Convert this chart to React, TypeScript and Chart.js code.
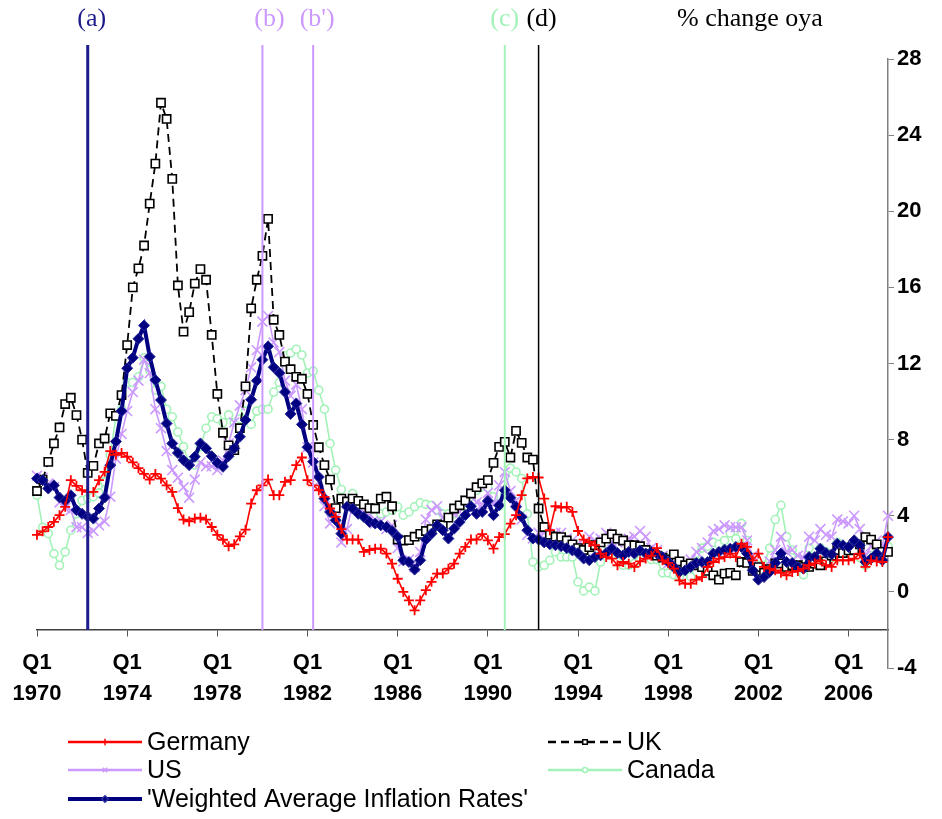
import React, { useEffect, useRef } from 'react';
import { Chart, registerables } from 'chart.js';

Chart.register(...registerables);

const FONT = '"Liberation Sans", Arial, Helvetica, sans-serif';
const SERIF = '"Liberation Serif", "Times New Roman", serif';

// ---- categories (quarters 1970 Q1 .. 2007 Q4) ----
const START_YEAR = 1970;
const N_QUARTERS = 152;
const quarterLabels: string[] = Array.from({ length: N_QUARTERS }, (_, i) => `Q${(i % 4) + 1} ${START_YEAR + Math.floor(i / 4)}`);
const TICK_EVERY = 16;

// ---- series values (% change over year ago) ----
const germany = [
  3.0, 3.18, 3.41, 3.68, 4.03, 4.47, 5.87, 5.57, 5.34, 5.25,
  5.25, 5.87, 6.31, 7.4, 7.2, 7.3, 7.1, 6.8, 6.5, 6.2,
  5.9, 6.2, 5.95, 5.6, 5.25, 4.4, 3.8, 3.7, 3.85, 3.9,
  3.8, 3.41, 3.0, 2.74, 2.4, 2.5, 2.92, 3.27, 4.64, 5.34,
  5.6, 5.9, 5.08, 5.08, 5.78, 5.87, 6.66, 7.06, 5.87, 5.6,
  5.34, 4.99, 4.38, 3.94, 3.3, 2.75, 2.75, 2.75, 2.1, 2.2,
  2.27, 2.27, 2.01, 1.48, 0.69, 0.0, -0.45, -0.97, -0.45, 0.09,
  0.53, 0.96, 0.96, 1.22, 1.48, 2.01, 2.36, 2.75, 2.75, 3.03,
  2.71, 2.27, 2.88, 3.03, 3.59, 4.03, 5.08, 5.96, 6.04, 6.01,
  4.9, 3.24, 4.5, 4.43, 4.47, 4.2, 3.2, 2.75, 2.62, 2.45,
  2.01, 1.83, 1.75, 1.4, 1.57, 1.48, 1.31, 1.6, 1.75, 1.9,
  2.3, 1.66, 1.52, 1.22, 0.6, 0.43, 0.43, 0.64, 0.78, 1.31,
  1.57, 1.75, 1.83, 2.01, 1.83, 2.53, 2.36, 1.66, 2.01, 1.31,
  1.22, 1.13, 1.0, 0.87, 1.05, 1.1, 1.22, 1.4, 1.5, 1.66,
  1.4, 1.31, 1.66, 1.66, 1.66, 1.75, 2.01, 1.31, 1.66, 1.6,
  1.57, 2.88,
];

const uk = [
  5.3, 5.9, 6.83, 7.8, 8.64, 9.87, 10.2, 9.29, 8.0, 6.25,
  6.62, 7.8, 8.06, 9.38, 9.25, 10.34, 12.97, 16.0, 17.0, 18.2,
  20.4, 22.5, 25.7, 24.85, 21.7, 16.1, 13.67, 14.7, 16.2, 16.96,
  16.4, 13.5, 10.4, 8.36, 7.7, 7.45, 8.6, 10.8, 14.9, 16.4,
  17.66, 19.6, 14.3, 13.5, 12.1, 11.7, 11.3, 11.2, 10.4, 8.77,
  7.6, 6.66, 5.9, 4.4, 4.9, 4.75, 4.9, 4.78, 4.6, 4.4,
  4.38, 4.9, 5.0, 4.5, 2.75, 2.7, 2.72, 2.9, 3.05, 3.2,
  3.3, 3.55, 3.5, 3.9, 4.38, 4.55, 4.8, 5.17, 5.5, 5.7,
  5.87, 6.78, 7.62, 7.88, 7.06, 8.46, 7.83, 7.06, 6.95, 4.38,
  3.41, 3.0, 2.9, 2.88, 2.7, 2.5, 2.3, 2.2, 2.35, 2.45,
  2.6, 2.8, 3.03, 2.8, 2.7, 2.45, 2.45, 2.4, 2.2, 2.0,
  1.9, 1.8, 1.7, 1.97, 1.6, 1.4, 1.5, 1.4, 1.3, 1.1,
  0.87, 0.64, 0.96, 1.0, 0.87, 1.57, 1.52, 1.1, 1.3, 1.0,
  1.2, 1.5, 1.5, 1.31, 1.4, 1.4, 1.3, 1.31, 1.48, 1.4,
  1.6, 1.9, 2.2, 2.04, 2.18, 2.2, 2.5, 2.88, 2.75, 2.5,
  2.1, 2.1,
];

const us = [
  6.1, 6.0, 5.7, 5.5, 4.7, 4.4, 4.3, 3.4, 3.4, 3.1,
  3.2, 3.5, 3.7, 5.0, 7.0, 8.3, 9.5, 10.5, 11.1, 12.2,
  11.5, 9.6, 8.6, 7.4, 6.4, 6.0, 5.5, 4.95, 5.9, 6.8,
  6.6, 6.6, 6.4, 6.9, 7.8, 8.9, 9.8, 10.6, 11.8, 12.7,
  14.2, 14.5, 13.1, 12.6, 11.1, 10.3, 10.9, 9.6, 7.6, 6.8,
  5.8, 4.5, 3.6, 3.9, 2.6, 3.3, 4.6, 4.3, 4.2, 4.1,
  3.6, 3.7, 3.3, 3.5, 2.3, 1.6, 1.7, 1.3, 2.1, 3.8,
  4.3, 4.5, 3.9, 3.9, 4.1, 4.2, 4.8, 5.2, 4.7, 4.6,
  5.2, 4.6, 5.6, 6.3, 5.3, 4.8, 3.8, 3.0, 2.8, 3.1,
  3.1, 3.0, 3.1, 3.1, 2.8, 2.7, 2.5, 2.4, 2.9, 2.7,
  2.8, 3.1, 2.6, 2.6, 2.7, 2.8, 2.9, 3.2, 2.9, 2.3,
  2.2, 1.9, 1.5, 1.6, 1.6, 1.5, 1.7, 2.1, 2.3, 2.6,
  3.2, 3.3, 3.5, 3.4, 3.4, 3.4, 2.7, 1.9, 1.2, 1.3,
  1.6, 2.2, 2.9, 2.1, 2.2, 1.9, 1.8, 2.9, 2.7, 3.3,
  3.0, 2.9, 3.8, 3.7, 3.6, 4.0, 3.3, 1.9, 2.4, 2.7,
  2.4, 4.0,
];

const canada = [
  5.08, 3.39, 3.06, 2.01, 1.4, 2.1, 3.24, 4.1, 4.8, 4.9,
  5.0, 5.2, 5.78, 7.19, 9.2, 9.6, 11.0, 11.0, 11.3, 12.3,
  11.65, 10.6, 10.8, 9.6, 9.2, 8.4, 7.63, 6.76, 6.67, 7.63,
  8.6, 9.2, 9.1, 8.9, 9.3, 8.9, 9.1, 9.5, 8.8, 9.5,
  9.6, 9.6, 10.5, 11.0, 12.4, 12.55, 12.75, 12.45, 11.5, 11.6,
  10.6, 9.6, 7.8, 6.4, 5.38, 4.67, 5.17, 4.6, 3.94, 3.76,
  3.97, 4.1, 4.2, 4.29, 4.47, 4.03, 4.2, 4.47, 4.68, 4.6,
  4.55, 4.3, 4.1, 4.1, 4.1, 4.2, 4.55, 5.0, 5.34, 5.55,
  5.48, 5.0, 4.5, 5.2, 6.5, 6.3, 5.96, 4.1, 1.57, 1.31,
  1.4, 1.66, 2.1, 1.83, 1.83, 1.83, 0.52, 0.05, 0.25, 0.05,
  1.57, 2.5, 2.4, 2.0, 1.4, 1.4, 1.5, 2.1, 2.1, 1.7,
  1.7, 1.0, 1.0, 0.9, 0.8, 1.1, 0.8, 1.6, 2.3, 2.4,
  2.6, 2.5, 2.7, 3.1, 2.8, 3.6, 2.7, 1.1, 1.4, 1.4,
  2.3, 3.8, 4.55, 2.9, 2.2, 1.7, 0.9, 2.3, 1.8, 2.3,
  2.1, 1.8, 2.6, 2.3, 2.4, 2.6, 1.8, 1.4, 1.9, 2.3,
  2.2, 2.4,
];

const weighted = [
  5.96, 5.87, 5.43, 5.6, 4.96, 4.78, 5.08, 4.3, 4.1, 3.95,
  3.85, 4.38, 4.96, 6.66, 7.9, 9.5, 11.75, 12.3, 13.3, 14.0,
  12.36, 11.13, 10.08, 8.85, 7.8, 7.3, 6.92, 6.66, 7.1, 7.8,
  7.54, 7.13, 6.78, 6.57, 7.13, 7.54, 8.15, 9.03, 10.1, 11.1,
  12.2, 12.9, 11.8, 11.5, 10.5, 9.35, 9.9, 8.8, 7.6, 6.84,
  6.04, 4.9, 4.2, 3.77, 3.06, 4.47, 4.38, 4.1, 3.94, 3.67,
  3.59, 3.5, 3.41, 3.2, 2.9, 1.66, 1.57, 1.17, 1.66, 2.75,
  3.06, 3.5, 3.24, 2.8, 3.32, 3.67, 4.03, 4.5, 4.1, 4.2,
  4.78, 4.03, 4.55, 5.34, 4.95, 4.47, 3.94, 3.24, 2.8, 2.75,
  2.6, 2.5, 2.45, 2.4, 2.3, 2.18, 2.04, 1.75, 1.66, 1.83,
  1.92, 2.04, 2.27, 2.04, 1.92, 2.1, 2.01, 2.18, 2.01, 2.1,
  2.01, 1.83, 1.57, 1.31, 1.05, 1.13, 1.31, 1.52, 1.57, 1.57,
  2.01, 2.1, 2.22, 2.27, 2.36, 2.36, 2.01, 1.13, 0.64, 0.78,
  1.05, 1.52, 2.01, 1.57, 1.52, 1.31, 1.22, 1.83, 1.83, 2.27,
  2.04, 1.97, 2.53, 2.45, 2.36, 2.71, 2.45, 1.57, 1.75, 2.01,
  1.66, 2.88,
];

const seriesNames = ['Germany', 'UK', 'US', 'Canada', "'Weighted Average Inflation Rates'"];

// ---- event markers ----
const eventLabels = ['(a)', '(b)', "(b')", '(c)', '(d)'];
const eventQuarters = ['Q2 1972', 'Q1 1980', 'Q2 1982', 'Q4 1990', 'Q2 1992'];
const unitLabel = '% change oya';

// ---- axis ----
const Y_MIN = -4;
const Y_MAX = 28;
const Y_STEP = 4;
const X_AXIS_AT = -2;

// ---- styles ----
type Style = {
  color: string; width: number; dash: number[]; marker: string; radius: number;
  fill: string; markerStroke: string; markerWidth: number; order: number;
};
const styles: Style[] = [
  { color: '#FF0000', width: 1.6, dash: [], marker: 'cross', radius: 5, fill: '#FF0000', markerStroke: '#FF0000', markerWidth: 1.8, order: 0 },
  { color: '#000000', width: 1.8, dash: [8, 5], marker: 'rect', radius: 5.8, fill: '#FFFFFF', markerStroke: '#000000', markerWidth: 1.6, order: 2 },
  { color: '#CC99FF', width: 1.6, dash: [], marker: 'crossRot', radius: 7, fill: '#CC99FF', markerStroke: '#CC99FF', markerWidth: 1.6, order: 3 },
  { color: '#A3F2B8', width: 1.6, dash: [], marker: 'circle', radius: 4, fill: '#FFFFFF', markerStroke: '#A3F2B8', markerWidth: 1.6, order: 4 },
  { color: '#000080', width: 4, dash: [], marker: 'rectRot', radius: 5.5, fill: '#000080', markerStroke: '#2B2B9E', markerWidth: 1, order: 1 },
];
const eventStyles = [
  { color: '#1E1B8A', width: 3, dx: 4 },
  { color: '#CC99FF', width: 2, dx: 7 },
  { color: '#CC99FF', width: 2, dx: 4 },
  { color: '#A3F2B8', width: 2, dx: 0 },
  { color: '#000000', width: 1.5, dx: 3 },
];
const legendLayout = [
  { col: 0, row: 0 }, { col: 1, row: 0 }, { col: 0, row: 1 }, { col: 1, row: 1 }, { col: 0, row: 2 },
];

function drawMarker(ctx: CanvasRenderingContext2D, style: string, x: number, y: number, r: number,
  stroke: string, fill: string, lw: number) {
  ctx.save();
  ctx.setLineDash([]);
  ctx.lineWidth = lw;
  ctx.strokeStyle = stroke;
  ctx.fillStyle = fill;
  ctx.beginPath();
  if (style === 'cross') {
    ctx.moveTo(x - r, y); ctx.lineTo(x + r, y); ctx.moveTo(x, y - r); ctx.lineTo(x, y + r); ctx.stroke();
  } else if (style === 'crossRot') {
    const d = r * Math.SQRT1_2;
    ctx.moveTo(x - d, y - d); ctx.lineTo(x + d, y + d); ctx.moveTo(x - d, y + d); ctx.lineTo(x + d, y - d); ctx.stroke();
  } else if (style === 'rect') {
    const s = r * Math.SQRT1_2;
    ctx.rect(x - s, y - s, 2 * s, 2 * s); ctx.fill(); ctx.stroke();
  } else if (style === 'circle') {
    ctx.arc(x, y, r, 0, Math.PI * 2); ctx.fill(); ctx.stroke();
  } else if (style === 'rectRot') {
    ctx.moveTo(x, y - r); ctx.lineTo(x + r, y); ctx.lineTo(x, y + r); ctx.lineTo(x - r, y); ctx.closePath(); ctx.fill(); ctx.stroke();
  }
  ctx.restore();
}

const overlayPlugin = {
  id: 'overlay',
  afterDatasetsDraw(chart: any) {
    const ctx: CanvasRenderingContext2D = chart.ctx;
    const xs = chart.scales.x;
    const ys = chart.scales.y;
    const top = chart.chartArea.top - 14;
    const bottom = ys.getPixelForValue(X_AXIS_AT);
    ctx.save();
    eventQuarters.forEach((q, k) => {
      const idx = quarterLabels.indexOf(q);
      const px = xs.getPixelForValue(idx);
      const st = eventStyles[k];
      ctx.strokeStyle = st.color;
      ctx.lineWidth = st.width;
      ctx.beginPath();
      ctx.moveTo(px, top);
      ctx.lineTo(px, bottom);
      ctx.stroke();
    });
    ctx.restore();
  },
  afterDraw(chart: any) {
    const ctx: CanvasRenderingContext2D = chart.ctx;
    const xs = chart.scales.x;
    ctx.save();
    // event labels
    ctx.font = `26px ${SERIF}`;
    ctx.textAlign = 'center';
    ctx.textBaseline = 'middle';
    eventQuarters.forEach((q, k) => {
      const idx = quarterLabels.indexOf(q);
      const px = xs.getPixelForValue(idx);
      ctx.fillStyle = eventStyles[k].color;
      ctx.fillText(eventLabels[k], px + eventStyles[k].dx, 19);
    });
    ctx.fillStyle = '#000';
    ctx.fillText(unitLabel, 750, 19);

    // legend
    const colX = [68, 548];
    const rowY = [742, 770, 799];
    const sampleW = 74;
    ctx.font = `25px ${FONT}`;
    ctx.textAlign = 'left';
    ctx.textBaseline = 'middle';
    seriesNames.forEach((name, k) => {
      const st = styles[k];
      const lay = legendLayout[k];
      const x0 = colX[lay.col];
      const y = rowY[lay.row];
      ctx.save();
      ctx.strokeStyle = st.color;
      ctx.lineWidth = k === 4 ? 4 : 2.5;
      ctx.setLineDash(st.dash.length ? [8, 5] : []);
      ctx.beginPath();
      ctx.moveTo(x0, y);
      ctx.lineTo(x0 + sampleW, y);
      ctx.stroke();
      ctx.restore();
      drawMarker(ctx, st.marker, x0 + sampleW / 2, y, k === 3 ? 2.5 : 3.2, st.markerStroke, st.fill, 1.5);
      ctx.fillStyle = '#000';
      ctx.fillText(name, x0 + sampleW + 5, y + 1);
    });
    ctx.restore();
  },
};

export default function App() {
  const ref = useRef<HTMLCanvasElement>(null);

  useEffect(() => {
    if (!ref.current) return;
    const seriesData = [germany, uk, us, canada, weighted];
    const datasets = seriesData.map((d, k) => {
      const st = styles[k];
      return {
        label: seriesNames[k],
        data: d,
        borderColor: st.color,
        backgroundColor: st.fill,
        borderWidth: st.width,
        borderDash: st.dash,
        tension: 0,
        fill: false,
        pointStyle: st.marker,
        pointRadius: st.radius,
        pointBorderColor: st.markerStroke,
        pointBackgroundColor: st.fill,
        pointBorderWidth: st.markerWidth,
        order: st.order,
        clip: false as any,
      };
    });

    const chart = new Chart(ref.current, {
      type: 'line',
      data: { labels: quarterLabels, datasets },
      options: {
        responsive: false,
        animation: false,
        devicePixelRatio: 1,
        layout: { padding: { top: 59, left: 37, right: 0, bottom: 151 } },
        plugins: {
          legend: { display: false },
          tooltip: { enabled: false },
          title: { display: false },
        },
        scales: {
          x: {
            type: 'category',
            position: { y: X_AXIS_AT } as any,
            offset: false,
            grid: {
              drawOnChartArea: false,
              drawTicks: true,
              tickLength: 6,
              lineWidth: 1,
              color: (c: any) => (c.index % TICK_EVERY === 0 ? '#555555' : 'rgba(0,0,0,0)'),
            },
            border: { display: true, color: '#404040', width: 1.5 },
            ticks: {
              autoSkip: false,
              maxRotation: 0,
              minRotation: 0,
              padding: 12,
              color: '#000',
              font: { family: FONT, size: 22, weight: 'bold', lineHeight: 1.4 },
              callback: (_v: any, i: number) => {
                if (i % TICK_EVERY !== 0) return '';
                const parts = quarterLabels[i].split(' ');
                return [parts[0], parts[1]];
              },
            },
          },
          y: {
            type: 'linear',
            position: 'right',
            min: Y_MIN,
            max: Y_MAX,
            afterFit: (s: any) => { s.width = 54; },
            grid: { drawOnChartArea: false, drawTicks: true, tickLength: 6, color: '#808080' },
            border: { display: true, color: '#808080', width: 1.5 },
            ticks: {
              stepSize: Y_STEP,
              padding: 3,
              color: '#000',
              font: { family: FONT, size: 22, weight: 'bold' },
            },
          },
        },
      },
      plugins: [overlayPlugin],
    } as any);

    return () => chart.destroy();
  }, []);

  return (
    <div style={{ position: 'absolute', left: 0, top: 0, width: 942, height: 819, background: '#ffffff' }}>
      <canvas ref={ref} width={942} height={819} style={{ display: 'block', width: 942, height: 819 }} />
    </div>
  );
}
